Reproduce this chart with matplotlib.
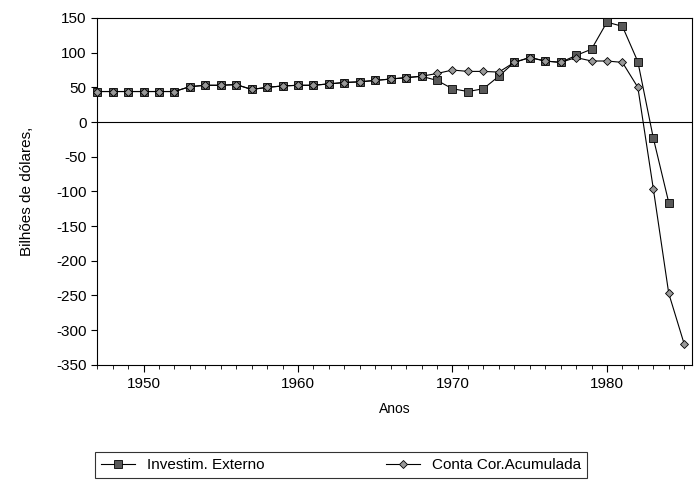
import numpy as np
import matplotlib.pyplot as plt
import matplotlib as mpl

## Data ---------------------------------------------

anos = list(range(1947, 1986))

investim_externo = [44, 44, 44, 44, 44, 44, 51, 53, 53, 54,
                    47, 50, 52, 53, 53, 55, 57, 58, 60, 62,
                    64, 66, 60, 48, 44, 48, 66, 86, 93, 88,
                    86, 96, 105, 144, 138, 87, -23, -116]

conta_cor_acum = [44, 44, 44, 44, 44, 44, 51, 53, 53, 54,
                  47, 50, 52, 53, 53, 55, 57, 58, 60, 62,
                  64, 66, 70, 75, 73, 73, 72, 86, 93, 88,
                  86, 93, 88, 88, 86, 50, -96, -247, -320]

y_ticks = [150, 100, 50, 0, -50, -100, -150, -200, -250, -300, -350]
x_ticks = [1950, 1960, 1970, 1980]

## Plot settings ------------------------------------

mpl.rcParams["font.family"] = ["Liberation Sans", "DejaVu Sans"]
mpl.rcParams["axes.unicode_minus"] = False
mpl.rcParams["figure.dpi"] = 100

fig = plt.figure(figsize=(6.94, 4.93))
ax = fig.add_axes([0.140, 0.260, 0.857, 0.7035])

ax.plot(anos[:len(investim_externo)], investim_externo, color="black", lw=0.8,
        marker="s", markersize=5.5, markerfacecolor="0.35", markeredgecolor="black",
        markeredgewidth=0.6, label="Investim. Externo", clip_on=False, zorder=3)
ax.plot(anos, conta_cor_acum, color="black", lw=0.8,
        marker="D", markersize=4.5, markerfacecolor="0.6", markeredgecolor="black",
        markeredgewidth=0.6, label="Conta Cor.Acumulada", clip_on=False, zorder=3)

ax.axhline(0, color="black", lw=0.8)

ax.set_xlim(1947, 1985.5)
ax.set_ylim(-350, 150)
ax.set_yticks(y_ticks)
ax.set_xticks(x_ticks)
ax.set_xticks(anos, minor=True)
ax.tick_params(axis="both", direction="out", labelsize=11, color="black")
ax.tick_params(axis="x", which="major", length=5)
ax.tick_params(axis="x", which="minor", length=3)
ax.tick_params(axis="y", length=4)

for s in ax.spines.values():
    s.set_linewidth(0.8)
    s.set_color("black")

ax.set_xlabel("Anos", fontsize=10, labelpad=8)
ax.set_ylabel("Bilhões de dólares,", fontsize=11, labelpad=16)

## Legend below -------------------------------------

leg = fig.legend(loc="lower left", bbox_to_anchor=(0.137, 0.03, 0.709, 0.063),
                 mode="expand", ncol=2, fontsize=11, frameon=True, fancybox=False,
                 edgecolor="black", borderaxespad=0, handlelength=2.2)
leg.get_frame().set_linewidth(0.8)

fig.savefig("out.png", dpi=100)
